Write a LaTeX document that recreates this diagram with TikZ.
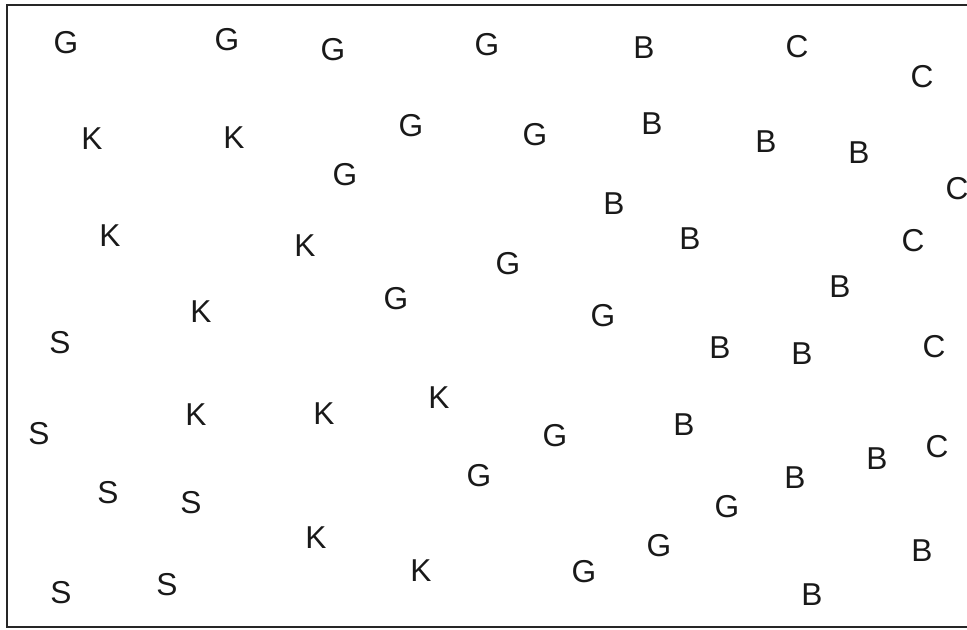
\documentclass[tikz,border=0pt]{standalone}
\usepackage{fontspec}
\setmainfont{Liberation Sans}
\usepackage{tikz}
\tikzset{lett/.style={inner sep=0pt,text=black!90,font=\fontsize{22.5pt}{27pt}\selectfont}}
\begin{document}
\begin{tikzpicture}[x=0.025cm,y=-0.025cm]
\useasboundingbox (0,0) rectangle (967,630);
\clip (0,0) rectangle (967,630);
\draw[line width=1.4pt,black!85] (7,5) rectangle (1000,627);
% first rows
\node[lett] (g1) at (66,43) {G};
\node[lett] (g2) at (227,40) {G};
\node[lett] (g3) at (333,50) {G};
\node[lett] (g4) at (487,45) {G};
\node[lett] (b1) at (644,48) {B};
\node[lett] (c1) at (797,47) {C};
\node[lett] (c2) at (922,77) {C};
\node[lett] (k1) at (92,139) {K};
\node[lett] (k2) at (234,138) {K};
\node[lett] (g5) at (411,126) {G};
\node[lett] (g6) at (535,135) {G};
\node[lett] (b2) at (652,124) {B};
\node[lett] (b3) at (766,142) {B};
\node[lett] (b4) at (859,153) {B};
\node[lett] (g7) at (345,175) {G};
\node[lett] (c3) at (957,189) {C};
\node[lett] (b5) at (614,204) {B};
% middle
\node[lett] (k3) at (110,236) {K};
\node[lett] (k4) at (305,246) {K};
\node[lett] (b6) at (690,239) {B};
\node[lett] (c4) at (913,241) {C};
\node[lett] (g8) at (508,264) {G};
\node[lett] (b7) at (840,287) {B};
\node[lett] (g9) at (396,299) {G};
\node[lett] (k5) at (201,312) {K};
\node[lett] (g10) at (603,316) {G};
\node[lett] (s1) at (60,343) {S};
\node[lett] (b8) at (720,348) {B};
\node[lett] (b9) at (802,354) {B};
\node[lett] (c5) at (934,347) {C};
\node[lett] (k6) at (439,398) {K};
\node[lett] (s2) at (39,434) {S};
\node[lett] (k7) at (196,415) {K};
\node[lett] (k8) at (324,414) {K};
\node[lett] (b10) at (684,425) {B};
\node[lett] (g11) at (555,436) {G};
\node[lett] (c6) at (937,447) {C};
\node[lett] (b11) at (877,459) {B};
% bottom rows
\node[lett] (g12) at (479,476) {G};
\node[lett] (b12) at (795,478) {B};
\node[lett] (s3) at (108,493) {S};
\node[lett] (s4) at (191,503) {S};
\node[lett] (g13) at (727,507) {G};
\node[lett] (k9) at (316,538) {K};
\node[lett] (g14) at (659,546) {G};
\node[lett] (b13) at (922,551) {B};
\node[lett] (s5) at (61,593) {S};
\node[lett] (s6) at (167,585) {S};
\node[lett] (k10) at (421,571) {K};
\node[lett] (g15) at (584,572) {G};
\node[lett] (b14) at (812,595) {B};
\end{tikzpicture}
\end{document}
